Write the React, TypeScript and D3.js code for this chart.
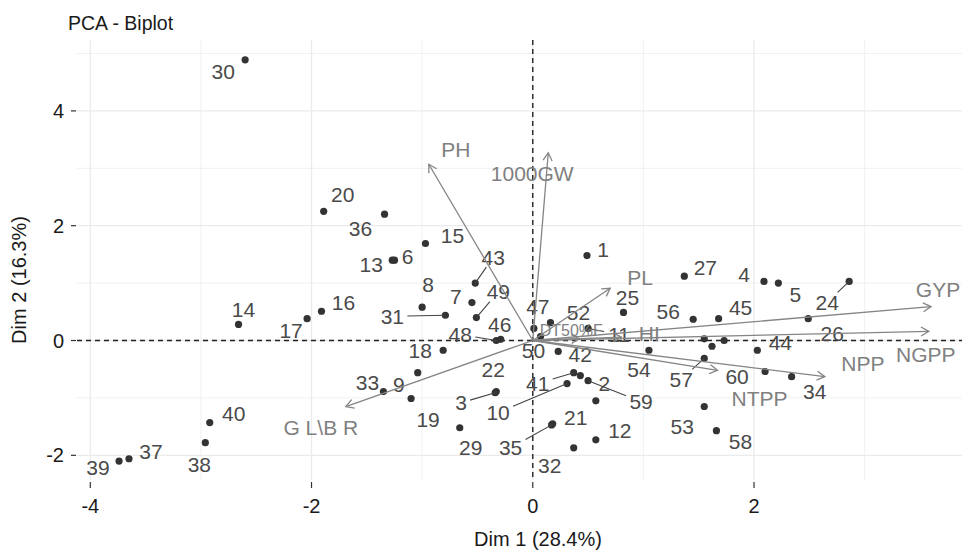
import React from "react";
import * as d3 from "d3";

// individuals (PCA scores)
const pointIds = [
  "1", "2", "3", "4", "5", "6", "7", "8", "9", "10",
  "11", "12", "13", "14", "15", "16", "17", "18", "19", "20",
  "21", "22", "23", "24", "25", "26", "27", "28", "29", "30",
  "31", "32", "33", "34", "35", "36", "37", "38", "39", "40",
  "41", "42", "43", "44", "45", "46", "47", "48", "49", "50",
  "51", "52", "53", "54", "55", "56", "57", "58", "59", "60",
];
const dim1 = [
  0.49, 0.43, -0.34, 2.09, 2.22, -1.25, -0.55, -1.0, -1.04, 0.31,
  0.5, 0.57, -1.27, -2.66, -0.97, -1.91, -2.04, -0.81, -1.1, -1.89,
  0.18, -0.33, 0.57, 2.86, 0.82, 2.49, 1.37, 1.55, -0.66, -2.6,
  -0.79, 0.37, -1.35, 2.34, 0.17, -1.34, -3.65, -2.96, -3.74, -2.92,
  0.37, 0.23, -0.52, 2.03, 1.68, -0.29, 0.01, -0.33, -0.51, 0.07,
  1.62, 0.16, 1.55, 1.05, 1.73, 1.45, 1.55, 1.66, 0.5, 2.1,
];
const dim2 = [
  1.48, -0.61, -0.91, 1.03, 1.0, 1.4, 0.66, 0.58, -0.56, -0.75,
  0.21, -1.73, 1.4, 0.28, 1.69, 0.51, 0.38, -0.17, -1.01, 2.25,
  -1.45, -0.89, -1.05, 1.03, 0.49, 0.38, 1.12, 0.03, -1.52, 4.89,
  0.44, -1.87, -0.89, -0.63, -1.47, 2.2, -2.06, -1.78, -2.1, -1.43,
  -0.56, -0.19, 1.0, -0.17, 0.38, 0.02, 0.21, 0.0, 0.4, 0.07,
  -0.1, 0.31, -1.15, -0.17, 0.0, 0.37, -0.31, -1.57, -0.7, -0.54,
];

// variables (loadings, scaled)
const varNames = ["PH", "1000GW", "PL", "GYP", "NGPP", "NPP", "NTPP", "G L\\B R", "DT50%F", "HI"];
const varDim1 = [-0.94, 0.14, 0.7, 3.6, 3.58, 2.64, 1.67, -1.69, 0.42, 0.8];
const varDim2 = [3.07, 3.27, 0.91, 0.59, 0.16, -0.63, -0.52, -1.15, 0.03, 0.06];

const xTicks = [-4, -2, 0, 2];
const yTicks = [-2, 0, 2, 4];
const xMinor = [-3, -1, 1, 3];
const yMinor = [-1, 1, 3, 5];

// repel-like label placement, px offset from point to label centre
const labelNudge: Record<string, [number, number]> = {
  "1": [16, -6], "2": [24, 8], "3": [-34, 10], "4": [-20, -7], "5": [17, 11],
  "6": [13, -4], "7": [-16, -6], "8": [6, -23], "9": [-19, 12], "10": [-69, 29],
  "11": [31, 6], "12": [24, -9], "13": [-21, 4], "14": [5, -15], "15": [27, -8],
  "16": [22, -9], "17": [-16, 12], "18": [-23, 0], "19": [17, 21], "20": [19, -17],
  "21": [23, -6], "22": [-3, -22], "24": [-22, 21], "25": [4, -15], "26": [24, 15],
  "27": [21, -9], "29": [11, 20], "30": [-22, 12], "31": [-53, 1], "32": [-24, 18],
  "33": [-16, -9], "34": [23, 15], "35": [-41, 23], "36": [-24, 14], "37": [22, -7],
  "38": [-6, 22], "39": [-21, 6], "40": [24, -9], "41": [-36, 11], "42": [22, 3],
  "43": [18, -26], "44": [23, -8], "45": [22, -11], "46": [-1, -15], "47": [4, -22],
  "48": [-36, -6], "49": [22, -26], "50": [-7, 14], "52": [28, -10], "53": [-22, 20],
  "54": [-10, 19], "56": [-25, -8], "57": [-23, 21], "58": [24, 11], "59": [53, 21],
  "60": [-28, 5],
};
const varNudge: Record<string, [number, number]> = {
  PH: [27, -15], "1000GW": [-16, 21], PL: [30, -11], GYP: [7, -17], NGPP: [-3, 23],
  NPP: [38, -13], NTPP: [42, 28], "G L\\B R": [-25, 21], "DT50%F": [-8, -8], HI: [28, -4],
};
const varFontSize: Record<string, number> = { "DT50%F": 16 };

const W = 962;
const H = 551;
const panel = { left: 77, right: 962, top: 40, bottom: 480 };

const x = d3.scaleLinear().domain([-4.12, 3.88]).range([panel.left, panel.right]);
const y = d3.scaleLinear().domain([-2.43, 5.235]).range([panel.bottom, panel.top]);

const font = "'Liberation Sans', Arial, Helvetica, sans-serif";

function arrowHead(x0: number, y0: number, x1: number, y1: number) {
  const a = Math.atan2(y1 - y0, x1 - x0);
  const len = 9;
  const sp = Math.PI / 6;
  const p1 = [x1 - len * Math.cos(a - sp), y1 - len * Math.sin(a - sp)];
  const p2 = [x1 - len * Math.cos(a + sp), y1 - len * Math.sin(a + sp)];
  return `M${p1[0]},${p1[1]}L${x1},${y1}L${p2[0]},${p2[1]}`;
}

const App = () => {
  const points = pointIds.map((id, i) => ({ id, px: x(dim1[i]), py: y(dim2[i]) }));
  const vars = varNames.map((name, i) => ({ name, px: x(varDim1[i]), py: y(varDim2[i]) }));
  const ox = x(0);
  const oy = y(0);

  return (
    <svg width={W} height={H} style={{ position: "absolute", left: 0, top: 0, background: "#fff" }} fontFamily={font}>
      {/* grid */}
      <g>
        {xMinor.map((t) => (
          <line key={"xm" + t} x1={x(t)} x2={x(t)} y1={panel.top} y2={panel.bottom} stroke="#f1f1f1" strokeWidth={1} />
        ))}
        {yMinor.map((t) => (
          <line key={"ym" + t} y1={y(t)} y2={y(t)} x1={panel.left} x2={panel.right} stroke="#f1f1f1" strokeWidth={1} />
        ))}
        {xTicks.map((t) => (
          <line key={"xg" + t} x1={x(t)} x2={x(t)} y1={panel.top} y2={panel.bottom} stroke="#ebebeb" strokeWidth={1.3} />
        ))}
        {yTicks.map((t) => (
          <line key={"yg" + t} y1={y(t)} y2={y(t)} x1={panel.left} x2={panel.right} stroke="#ebebeb" strokeWidth={1.3} />
        ))}
      </g>

      {/* reference lines */}
      <line x1={ox} x2={ox} y1={panel.top} y2={panel.bottom} stroke="#222" strokeWidth={1.4} strokeDasharray="5,4" />
      <line y1={oy} y2={oy} x1={panel.left} x2={panel.right} stroke="#222" strokeWidth={1.4} strokeDasharray="5,4" />

      {/* individuals */}
      <g>
        {points.map((p) => (
          <circle key={"pt" + p.id} cx={p.px} cy={p.py} r={3.6} fill="#333" />
        ))}
        {points.map((p) => {
          const n = labelNudge[p.id];
          if (!n) return null;
          const lx = p.px + n[0];
          const ly = p.py + n[1];
          const dist = Math.hypot(n[0], n[1]);
          let seg = null;
          if (dist > 30) {
            const hw = p.id.length * 6 + 3;
            const hh = 10;
            const dx = p.px - lx;
            const dy = p.py - ly;
            const t = Math.min(hw / Math.abs(dx || 1e-9), hh / Math.abs(dy || 1e-9));
            seg = <line x1={p.px} y1={p.py} x2={lx + dx * t} y2={ly + dy * t} stroke="#444" strokeWidth={1.1} />;
          }
          return (
            <g key={"lb" + p.id}>
              {seg}
              <text x={lx} y={ly} textAnchor="middle" dominantBaseline="central" fontSize={21} fill="#4a4a4a">
                {p.id}
              </text>
            </g>
          );
        })}
      </g>

      {/* variables */}
      <g stroke="#858585" strokeWidth={1.3} fill="none">
        {vars.map((v) => (
          <g key={"ar" + v.name}>
            <line x1={ox} y1={oy} x2={v.px} y2={v.py} />
            <path d={arrowHead(ox, oy, v.px, v.py)} />
          </g>
        ))}
      </g>
      <g>
        {vars.map((v) => {
          const n = varNudge[v.name];
          return (
            <text
              key={"vl" + v.name}
              x={v.px + n[0]}
              y={v.py + n[1]}
              textAnchor="middle"
              dominantBaseline="central"
              fontSize={varFontSize[v.name] ?? 21}
              fill="#808080"
            >
              {v.name}
            </text>
          );
        })}
      </g>

      {/* axes */}
      <g>
        {xTicks.map((t) => (
          <g key={"xt" + t}>
            <line x1={x(t)} x2={x(t)} y1={482} y2={488} stroke="#333" strokeWidth={1.2} />
            <text x={x(t)} y={506} textAnchor="middle" dominantBaseline="central" fontSize={20} fill="#1a1a1a">
              {t}
            </text>
          </g>
        ))}
        {yTicks.map((t) => (
          <g key={"yt" + t}>
            <line x1={71} x2={76} y1={y(t)} y2={y(t)} stroke="#333" strokeWidth={1.2} />
            <text x={64} y={y(t)} textAnchor="end" dominantBaseline="central" fontSize={20} fill="#1a1a1a">
              {t}
            </text>
          </g>
        ))}
      </g>
      <text x={538} y={539} textAnchor="middle" dominantBaseline="central" fontSize={20} fill="#1a1a1a">
        Dim 1 (28.4%)
      </text>
      <text transform="translate(19,280) rotate(-90)" textAnchor="middle" dominantBaseline="central" fontSize={20} fill="#1a1a1a">
        Dim 2 (16.3%)
      </text>
      <text x={68} y={30} fontSize={19.5} fill="#1a1a1a">
        PCA - Biplot
      </text>
    </svg>
  );
};

export default App;
